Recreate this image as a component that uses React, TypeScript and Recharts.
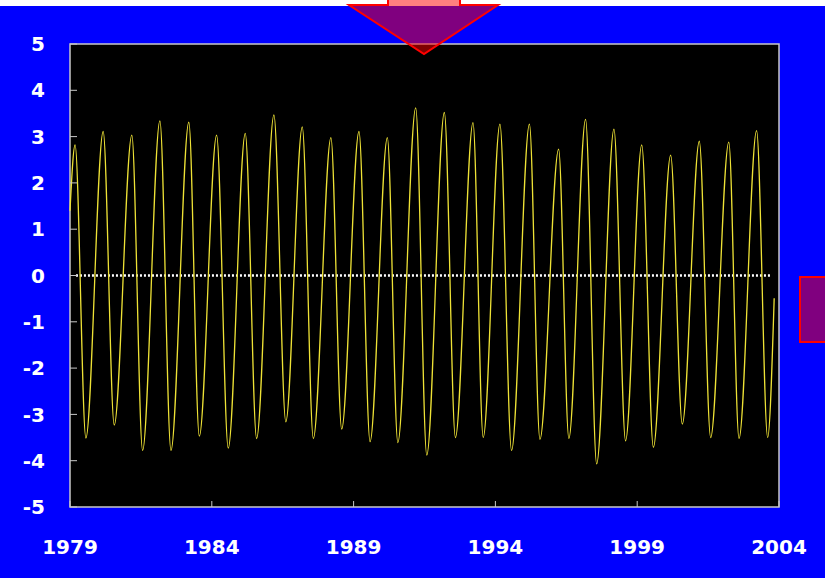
import { CartesianGrid, Line, LineChart, ReferenceArea, ReferenceLine, XAxis, YAxis } from 'recharts';

// alternating peaks and troughs, decimal years
const years = [
  1979.0, 1979.18, 1979.56, 1980.17, 1980.56, 1981.18, 1981.56, 1982.17, 1982.56,
  1983.19, 1983.56, 1984.17, 1984.58, 1985.18, 1985.58, 1986.19, 1986.61, 1987.19,
  1987.58, 1988.2, 1988.58, 1989.19, 1989.58, 1990.19, 1990.56, 1991.19, 1991.58,
  1992.2, 1992.59, 1993.21, 1993.57, 1994.16, 1994.57, 1995.2, 1995.57, 1996.23,
  1996.59, 1997.18, 1997.57, 1998.18, 1998.59, 1999.16, 1999.57, 2000.18, 2000.59,
  2001.19, 2001.59, 2002.23, 2002.59, 2003.21, 2003.6, 2003.83,
];
const anomaly = [
  1.4, 2.82, -3.51, 3.11, -3.23, 3.03, -3.78, 3.34, -3.78,
  3.31, -3.47, 3.03, -3.73, 3.07, -3.52, 3.47, -3.16, 3.21,
  -3.52, 2.98, -3.32, 3.11, -3.59, 2.98, -3.61, 3.62, -3.88,
  3.52, -3.5, 3.3, -3.5, 3.27, -3.78, 3.27, -3.54, 2.73,
  -3.52, 3.37, -4.07, 3.16, -3.57, 2.82, -3.71, 2.6, -3.21,
  2.9, -3.5, 2.88, -3.52, 3.13, -3.5, -0.49,
];
const xTicks = [1979, 1984, 1989, 1994, 1999, 2004];
const yTicks = [-5, -4, -3, -2, -1, 0, 1, 2, 3, 4, 5];

const data = years.map((t, i) => ({ t, v: anomaly[i] }));

const FRAME = '#c8c8c8';
const tickFont = { fill: '#fff', fontSize: 20, fontWeight: 700, fontFamily: 'DejaVu Sans, Verdana, sans-serif' };

export default function App() {
  return (
    <div style={{ position: 'absolute', left: 0, top: 0, width: 825, height: 578, background: '#0000ff', overflow: 'hidden' }}>
      <LineChart width={825} height={578} data={data} margin={{ top: 44, right: 46, bottom: 21, left: 0 }}>
        <CartesianGrid fill="#000" horizontal={false} vertical={false} />
        <XAxis
          dataKey="t"
          type="number"
          domain={[1979, 2004]}
          ticks={xTicks}
          height={50}
          axisLine={false}
          tickLine={{ stroke: FRAME }}
          tickSize={-6}
          tickMargin={39}
          tick={tickFont}
          interval={0}
        />
        <YAxis
          domain={[-5, 5]}
          ticks={yTicks}
          width={70}
          axisLine={false}
          tickLine={{ stroke: FRAME }}
          tickSize={-7}
          tickMargin={32}
          tick={tickFont}
          interval={0}
        />
        <ReferenceLine
          segment={[{ x: 1979.21, y: 0 }, { x: 2003.75, y: 0 }]}
          stroke="#fff"
          strokeWidth={2.5}
          strokeDasharray="2 2"
        />
        <Line
          type="monotone"
          dataKey="v"
          stroke="#eee236"
          strokeWidth={1.3}
          dot={false}
          isAnimationActive={false}
        />
        <ReferenceArea x1={1979} x2={2004} y1={-5} y2={5} fill="none" stroke={FRAME} strokeWidth={1.5} />
      </LineChart>
      <svg width={825} height={578} style={{ position: 'absolute', left: 0, top: 0, pointerEvents: 'none' }}>
        <rect x={0} y={0} width={825} height={6} fill="#fff" />
        <path
          d="M388,-5 L388,5 L349,5 L424,54 L498,5 L460,5 L460,-5 Z"
          fill="rgba(255,0,0,0.5)"
          stroke="#f00"
          strokeWidth={2}
        />
        <rect x={800} y={277} width={40} height={65} fill="rgba(255,0,0,0.5)" stroke="#f00" strokeWidth={2} />
      </svg>
    </div>
  );
}
